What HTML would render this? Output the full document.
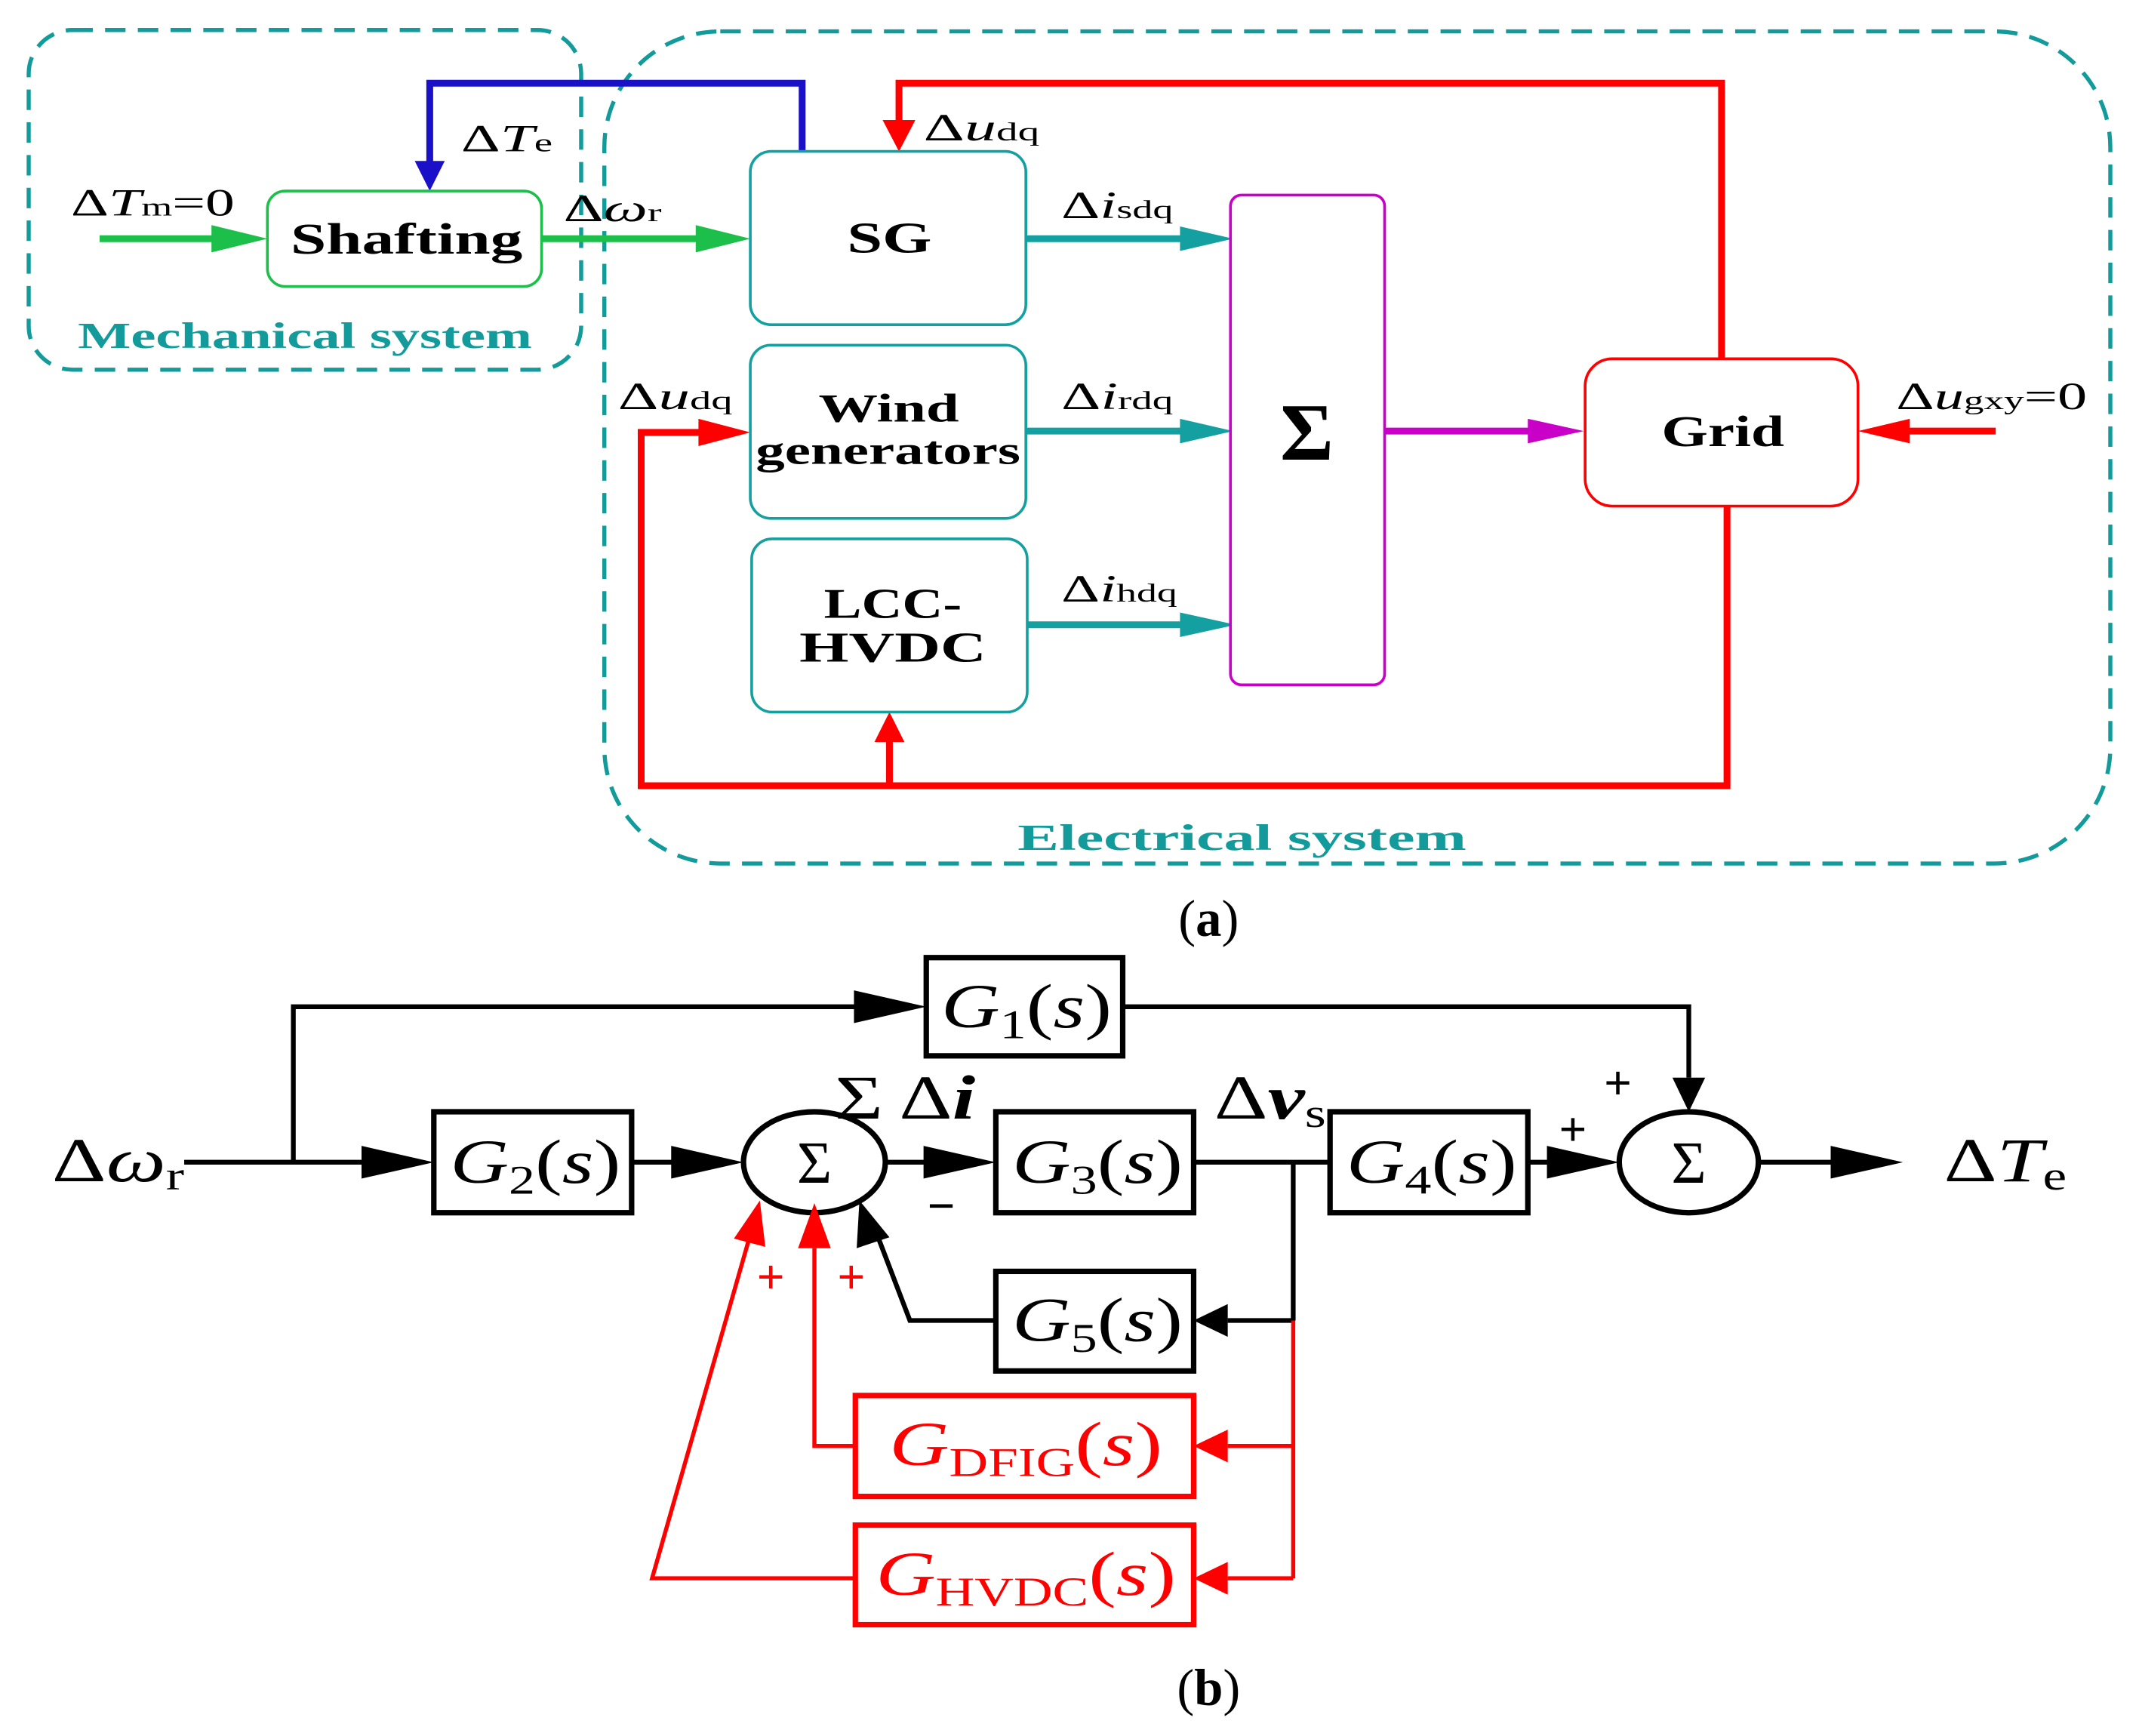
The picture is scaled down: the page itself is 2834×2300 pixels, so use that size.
<!DOCTYPE html>
<html><head><meta charset="utf-8"><style>html,body{margin:0;padding:0;background:#fff}svg{display:block}</style></head>
<body>
<svg width="2834" height="2300" viewBox="0 0 1568 1272.6" xmlns="http://www.w3.org/2000/svg" font-family="Liberation Serif, serif">
<!-- dashed system boxes -->
<rect x="21" y="22" width="405" height="249" rx="32" fill="none" stroke="#139a9a" stroke-width="3" stroke-dasharray="15,9"/>
<rect x="443" y="23" width="1104" height="610" rx="85" fill="none" stroke="#139a9a" stroke-width="3" stroke-dasharray="15,9"/>
<text x="57" y="255" font-size="27" font-weight="bold" fill="#139a9a" textLength="333" lengthAdjust="spacingAndGlyphs">Mechanical system</text>
<text x="746" y="623" font-size="27" font-weight="bold" fill="#139a9a" textLength="329" lengthAdjust="spacingAndGlyphs">Electrical system</text>

<!-- blue feedback -->
<polyline points="588,111 588,61 315,61 315,120" fill="none" stroke="#1a10c8" stroke-width="5"/>
<polygon points="304,118 326,118 315,140" fill="#1a10c8"/>
<text x="338" y="111" font-size="28" textLength="67" lengthAdjust="spacingAndGlyphs"><tspan>Δ</tspan><tspan font-style="italic">T</tspan><tspan font-size="19">e</tspan></text>

<!-- green arrows -->
<line x1="73" y1="175" x2="175" y2="175" stroke="#1bbf4a" stroke-width="5"/>
<polygon points="155,165 196,175 155,185" fill="#1bbf4a"/>
<line x1="397" y1="175" x2="530" y2="175" stroke="#1bbf4a" stroke-width="5"/>
<polygon points="510,165 550,175 510,185" fill="#1bbf4a"/>
<text x="52" y="158" font-size="28" textLength="120" lengthAdjust="spacingAndGlyphs"><tspan>Δ</tspan><tspan font-style="italic">T</tspan><tspan font-size="19">m</tspan><tspan>=0</tspan></text>
<text x="413" y="162" font-size="28" textLength="72" lengthAdjust="spacingAndGlyphs"><tspan>Δ</tspan><tspan font-style="italic">ω</tspan><tspan font-size="19">r</tspan></text>

<!-- Shafting -->
<rect x="196" y="140" width="201" height="70" rx="13" fill="#fff" stroke="#1bbf4a" stroke-width="2"/>
<text x="213" y="186" font-size="32" font-weight="bold" textLength="170" lengthAdjust="spacingAndGlyphs">Shafting</text>

<!-- red top -->
<polyline points="1262,263 1262,61 659,61 659,92" fill="none" stroke="#ff0000" stroke-width="5"/>
<polygon points="647,88 671,88 659,111" fill="#ff0000"/>
<text x="677" y="103" font-size="28" textLength="85" lengthAdjust="spacingAndGlyphs"><tspan>Δ</tspan><tspan font-style="italic">u</tspan><tspan font-size="19">dq</tspan></text>

<!-- red bottom -->
<polyline points="1266,371 1266,576 470,576 470,317 532,317" fill="none" stroke="#ff0000" stroke-width="5"/>
<polygon points="512,307 550,317 512,327" fill="#ff0000"/>
<line x1="652" y1="576" x2="652" y2="540" stroke="#ff0000" stroke-width="5"/>
<polygon points="641,544 663,544 652,522" fill="#ff0000"/>
<text x="453" y="300" font-size="28" textLength="84" lengthAdjust="spacingAndGlyphs"><tspan>Δ</tspan><tspan font-style="italic">u</tspan><tspan font-size="19">dq</tspan></text>

<!-- SG / Wind / LCC -->
<rect x="550" y="111" width="202" height="127" rx="15" fill="#fff" stroke="#14a0a0" stroke-width="2"/>
<text x="621" y="185" font-size="32" font-weight="bold" textLength="62" lengthAdjust="spacingAndGlyphs">SG</text>
<rect x="550" y="253" width="202" height="127" rx="15" fill="#fff" stroke="#14a0a0" stroke-width="2"/>
<text x="600" y="309" font-size="29" font-weight="bold" textLength="103" lengthAdjust="spacingAndGlyphs">Wind</text>
<text x="554" y="340" font-size="29" font-weight="bold" textLength="194" lengthAdjust="spacingAndGlyphs">generators</text>
<rect x="551" y="395" width="202" height="127" rx="15" fill="#fff" stroke="#14a0a0" stroke-width="2"/>
<text x="604" y="453" font-size="31" font-weight="bold" textLength="101" lengthAdjust="spacingAndGlyphs">LCC-</text>
<text x="586" y="485" font-size="31" font-weight="bold" textLength="137" lengthAdjust="spacingAndGlyphs">HVDC</text>

<!-- teal arrows -->
<g stroke="#14a0a0" stroke-width="5">
<line x1="752" y1="175" x2="885" y2="175"/>
<line x1="752" y1="316" x2="885" y2="316"/>
<line x1="753" y1="458" x2="885" y2="458"/>
</g>
<g fill="#14a0a0">
<polygon points="865,166 904,175 865,184"/>
<polygon points="865,307 904,316 865,325"/>
<polygon points="865,449 906,458 865,467"/>
</g>
<text x="778" y="160" font-size="28" textLength="82" lengthAdjust="spacingAndGlyphs"><tspan>Δ</tspan><tspan font-style="italic">i</tspan><tspan font-size="19">sdq</tspan></text>
<text x="778" y="300" font-size="28" textLength="82" lengthAdjust="spacingAndGlyphs"><tspan>Δ</tspan><tspan font-style="italic">i</tspan><tspan font-size="19">rdq</tspan></text>
<text x="778" y="441" font-size="28" textLength="85" lengthAdjust="spacingAndGlyphs"><tspan>Δ</tspan><tspan font-style="italic">i</tspan><tspan font-size="19">hdq</tspan></text>

<!-- Sigma box -->
<rect x="902" y="143" width="113" height="359" rx="8" fill="#fff" stroke="#c800c8" stroke-width="2"/>
<text x="958" y="337" text-anchor="middle" font-size="60" font-weight="bold">Σ</text>
<line x1="1015" y1="316" x2="1140" y2="316" stroke="#c800c8" stroke-width="5"/>
<polygon points="1120,307 1161,316 1120,325" fill="#c800c8"/>

<!-- Grid -->
<rect x="1162" y="263" width="200" height="108" rx="20" fill="#fff" stroke="#ff0000" stroke-width="2"/>
<text x="1218" y="327" font-size="32" font-weight="bold" textLength="90" lengthAdjust="spacingAndGlyphs">Grid</text>
<line x1="1463" y1="316" x2="1380" y2="316" stroke="#ff0000" stroke-width="5"/>
<polygon points="1400,307 1362,316 1400,325" fill="#ff0000"/>
<text x="1390" y="300" font-size="28" textLength="140" lengthAdjust="spacingAndGlyphs"><tspan>Δ</tspan><tspan font-style="italic">u</tspan><tspan font-size="19">gxy</tspan><tspan>=0</tspan></text>

<text x="886" y="686" text-anchor="middle" font-size="38">(<tspan font-weight="bold">a</tspan>)</text>

<!-- ===== part b ===== -->
<g stroke="#000" stroke-width="3.5" fill="none">
<line x1="135" y1="852" x2="290" y2="852"/>
<polyline points="215,852 215,738 650,738"/>
<polyline points="823,738 1238,738 1238,790"/>
<line x1="463" y1="852" x2="518" y2="852"/>
<line x1="650" y1="852" x2="705" y2="852"/>
<line x1="875" y1="852" x2="975" y2="852"/>
<line x1="948" y1="852" x2="948" y2="968"/>
<line x1="948" y1="968" x2="900" y2="968"/>
<polyline points="730,968 667,968 641,900"/>
<line x1="1120" y1="852" x2="1160" y2="852"/>
<line x1="1290" y1="852" x2="1370" y2="852"/>
</g>
<g fill="#000">
<polygon points="265,840 318,852 265,864"/>
<polygon points="626,726 679,738 626,750"/>
<polygon points="1226,790 1250,790 1238,815"/>
<polygon points="492,840 545,852 492,864"/>
<polygon points="677,840 730,852 677,864"/>
<polygon points="900,956 875,968 900,980"/>
<polygon points="628,915 652,907 630,880"/>
<polygon points="1134,840 1187,852 1134,864"/>
<polygon points="1342,840 1395,852 1342,864"/>
</g>
<g fill="#fff" stroke="#000" stroke-width="4">
<rect x="679" y="702" width="144" height="72"/>
<rect x="318" y="815" width="145" height="74"/>
<rect x="730" y="815" width="145" height="74"/>
<rect x="975" y="815" width="145" height="74"/>
<rect x="730" y="932" width="145" height="73"/>
<ellipse cx="597" cy="852" rx="52" ry="37"/>
<ellipse cx="1238" cy="852" rx="51" ry="37"/>
</g>
<g font-size="46">
<text x="690" y="753" textLength="125" lengthAdjust="spacingAndGlyphs"><tspan font-style="italic">G</tspan><tspan font-size="30" dy="8">1</tspan><tspan dy="-8">(</tspan><tspan font-style="italic">s</tspan>)</text>
<text x="330" y="867" textLength="125" lengthAdjust="spacingAndGlyphs"><tspan font-style="italic">G</tspan><tspan font-size="30" dy="8">2</tspan><tspan dy="-8">(</tspan><tspan font-style="italic">s</tspan>)</text>
<text x="742" y="867" textLength="125" lengthAdjust="spacingAndGlyphs"><tspan font-style="italic">G</tspan><tspan font-size="30" dy="8">3</tspan><tspan dy="-8">(</tspan><tspan font-style="italic">s</tspan>)</text>
<text x="987" y="867" textLength="125" lengthAdjust="spacingAndGlyphs"><tspan font-style="italic">G</tspan><tspan font-size="30" dy="8">4</tspan><tspan dy="-8">(</tspan><tspan font-style="italic">s</tspan>)</text>
<text x="742" y="983" textLength="125" lengthAdjust="spacingAndGlyphs"><tspan font-style="italic">G</tspan><tspan font-size="30" dy="8">5</tspan><tspan dy="-8">(</tspan><tspan font-style="italic">s</tspan>)</text>
<text x="597" y="867" text-anchor="middle" font-size="44">Σ</text>
<text x="1238" y="867" text-anchor="middle" font-size="44">Σ</text>
<text x="38" y="866" textLength="97" lengthAdjust="spacingAndGlyphs">Δ<tspan font-style="italic">ω</tspan><tspan font-size="30" dy="6">r</tspan></text>
<text x="1425" y="866" textLength="90" lengthAdjust="spacingAndGlyphs">Δ<tspan font-style="italic">T</tspan><tspan font-size="30" dy="6">e</tspan></text>
<text x="612" y="820" textLength="103" lengthAdjust="spacingAndGlyphs">Σ Δ<tspan font-style="italic" font-weight="bold">i</tspan></text>
<text x="890" y="820" textLength="82" lengthAdjust="spacingAndGlyphs">Δ<tspan font-style="italic" font-weight="bold">v</tspan><tspan font-size="30" dy="6">s</tspan></text>
</g>
<g font-size="36" font-weight="bold" text-anchor="middle">
<text x="1186" y="806">+</text>
<text x="1153" y="840">+</text>
<text x="690" y="896">−</text>
</g>
<!-- red part -->
<g stroke="#ff0000" stroke-width="3" fill="none">
<line x1="948" y1="968" x2="948" y2="1157"/>
<line x1="948" y1="1060" x2="900" y2="1060"/>
<line x1="948" y1="1157" x2="900" y2="1157"/>
<polyline points="627,1060 597,1060 597,915"/>
<polyline points="627,1157 478,1157 550,905"/>
</g>
<g fill="#ff0000">
<polygon points="900,1048 875,1060 900,1072"/>
<polygon points="900,1145 875,1157 900,1169"/>
<polygon points="585,915 609,915 597,882"/>
<polygon points="538,908 561,914 557,880"/>
</g>
<g fill="#fff" stroke="#ff0000" stroke-width="4">
<rect x="627" y="1023" width="248" height="74"/>
<rect x="627" y="1118" width="248" height="73"/>
</g>
<g font-size="46" fill="#ff0000">
<text x="652" y="1074" textLength="200" lengthAdjust="spacingAndGlyphs"><tspan font-style="italic">G</tspan><tspan font-size="30" dy="8">DFIG</tspan><tspan dy="-8">(</tspan><tspan font-style="italic">s</tspan>)</text>
<text x="642" y="1169" textLength="220" lengthAdjust="spacingAndGlyphs"><tspan font-style="italic">G</tspan><tspan font-size="30" dy="8">HVDC</tspan><tspan dy="-8">(</tspan><tspan font-style="italic">s</tspan>)</text>
<text x="565" y="948" text-anchor="middle" font-size="36" font-weight="bold">+</text>
<text x="624" y="948" text-anchor="middle" font-size="36" font-weight="bold">+</text>
</g>
<text x="886" y="1250" text-anchor="middle" font-size="38">(<tspan font-weight="bold">b</tspan>)</text>
</svg>
</body></html>
